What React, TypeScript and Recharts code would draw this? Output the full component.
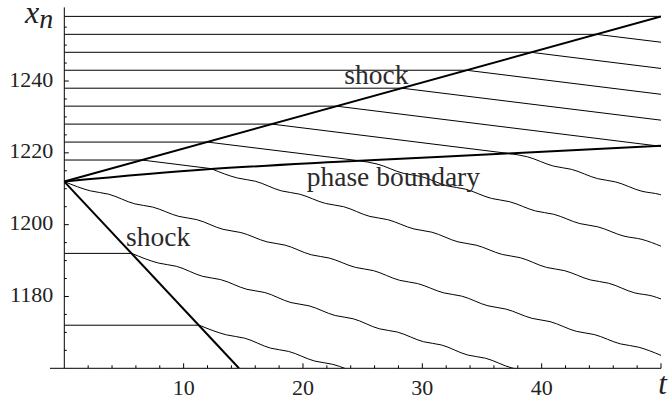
import { LineChart, Line, XAxis, YAxis, ReferenceLine, ReferenceDot } from 'recharts';

type Pt = [number, number];

// tick values
const timeTicks = [2, 4, 6, 8, 10, 12, 14, 16, 18, 20, 22, 24, 26, 28, 30, 32, 34, 36, 38, 40, 42, 44, 46, 48, 50];
const posTicks = [1165, 1170, 1175, 1180, 1185, 1190, 1195, 1200, 1205, 1210, 1215, 1220, 1225, 1230, 1235, 1240, 1245, 1250, 1255];
const posLabelled = [1180, 1200, 1220, 1240];

// particles at rest, then drifting after the shock (straight parts)
const p9Path: Pt[] = [[0, 1258], [50, 1258]];
const p8Path: Pt[] = [[0, 1253], [44.6, 1253], [50, 1250.8]];
const p7Path: Pt[] = [[0, 1248], [39.1, 1248], [50, 1243.5]];
const p6Path: Pt[] = [[0, 1243], [33.7, 1243], [50, 1236.3]];
const p5Path: Pt[] = [[0, 1238], [28.3, 1238], [50, 1229.1]];
const p4Path: Pt[] = [[0, 1233], [22.8, 1233], [50, 1221.8]];
const p3Path: Pt[] = [[0, 1228], [17.4, 1228], [37.3, 1219.8]];
const p2Path: Pt[] = [[0, 1223], [12.0, 1223], [24.7, 1217.8]];
const p1Path: Pt[] = [[0, 1218], [6.5, 1218], [12.3, 1215.6]];
const pm1Path: Pt[] = [[0, 1192], [5.65, 1192]];
const pm2Path: Pt[] = [[0, 1172], [11.3, 1172]];

// wavy parts below the phase boundary
const p0Wave: Pt[] = [
  [0, 1212], [2.2, 1209.4], [3.7, 1208.5], [5.9, 1205.8], [7.4, 1204.9], [9.6, 1202.3], [11.1, 1201.4],
  [13.3, 1198.7], [14.8, 1197.8], [17.0, 1195.2], [18.5, 1194.3], [20.7, 1191.6], [22.2, 1190.7],
  [24.4, 1188.1], [25.9, 1187.2], [28.1, 1184.5], [29.6, 1183.6], [31.8, 1181.0], [33.3, 1180.1],
  [35.5, 1177.4], [37.0, 1176.5], [39.2, 1173.9], [40.7, 1173.0], [42.9, 1170.3], [44.4, 1169.4],
  [46.6, 1166.8], [48.1, 1165.9], [50, 1163.6],
];
const p1Wave: Pt[] = [
  [12.3, 1215.6], [14.5, 1213.0], [16.0, 1212.1], [18.2, 1209.4], [19.7, 1208.5], [21.9, 1205.9],
  [23.4, 1205.0], [25.6, 1202.3], [27.1, 1201.4], [29.3, 1198.8], [30.8, 1197.9], [33.0, 1195.2],
  [34.5, 1194.3], [36.7, 1191.7], [38.2, 1190.8], [40.4, 1188.1], [41.9, 1187.2], [44.1, 1184.6],
  [45.6, 1183.7], [47.8, 1181.0], [49.3, 1180.1], [50, 1179.3],
];
const p2Wave: Pt[] = [
  [24.7, 1217.8], [26.2, 1216.9], [28.4, 1214.3], [29.9, 1213.4], [32.1, 1210.8], [33.6, 1209.9],
  [35.8, 1207.3], [37.3, 1206.4], [39.5, 1203.8], [41.0, 1202.9], [43.2, 1200.3], [44.7, 1199.4],
  [46.9, 1196.8], [48.4, 1195.9], [50, 1194.0],
];
const p3Wave: Pt[] = [
  [37.3, 1219.8], [38.8, 1218.9], [41.0, 1216.3], [42.5, 1215.4], [44.7, 1212.8], [46.2, 1211.9],
  [48.4, 1209.3], [49.9, 1208.4], [50, 1208.3],
];
const pm1Wave: Pt[] = [
  [5.65, 1192], [7.9, 1189.3], [9.4, 1188.4], [11.6, 1185.6], [13.1, 1184.7], [15.3, 1182.0],
  [16.8, 1181.1], [19.0, 1178.3], [20.5, 1177.4], [22.7, 1174.7], [24.2, 1173.8], [26.4, 1171.0],
  [27.9, 1170.1], [30.1, 1167.4], [31.6, 1166.5], [33.8, 1163.7], [35.3, 1162.8], [37.5, 1160.1],
  [39.0, 1159.2],
];
const pm2Wave: Pt[] = [
  [11.3, 1172], [13.6, 1169.3], [15.1, 1168.4], [17.3, 1165.6], [18.8, 1164.7], [21.0, 1162.0],
  [22.5, 1161.1], [24.7, 1158.3],
];

// shocks and phase boundary
const upperShock: Pt[] = [[0, 1212], [50, 1258]];
const lowerShock: Pt[] = [[0, 1212], [14.64, 1160]];
const phaseBoundary: Pt[] = [[0, 1212], [12, 1215.4], [23, 1217.5], [37, 1219.8], [50, 1222]];

const straightPaths = [p9Path, p8Path, p7Path, p6Path, p5Path, p4Path, p3Path, p2Path, p1Path, pm1Path, pm2Path];
const wavyPaths = [p0Wave, p1Wave, p2Wave, p3Wave, pm1Wave, pm2Wave];

const notes = [
  { text: 'shock', t: 23.46, x: 1239.1 },
  { text: 'phase boundary', t: 20.31, x: 1210.8 },
  { text: 'shock', t: 5.17, x: 1194.1 },
];

const FONT = "'Liberation Serif', 'Times New Roman', serif";

const rows = (pts: Pt[]) => pts.map(([t, x]) => ({ t, x }));

function TimeTick({ x, y, payload }: any) {
  const v = payload.value;
  const major = v % 10 === 0;
  return (
    <g>
      <line x1={x} y1={y} x2={x} y2={y - (major ? 5 : 3)} stroke="#000" strokeWidth={1} />
      {major && v < 50 && (
        <text x={x} y={y + 26.5} textAnchor="middle" style={{ fontFamily: FONT, fontSize: 22 }} fill="#222">
          {v}
        </text>
      )}
      {v === 50 && (
        <text x={x + 1.5} y={y + 26} textAnchor="middle" style={{ fontFamily: FONT, fontSize: 31, fontStyle: 'italic' }} fill="#222">
          t
        </text>
      )}
    </g>
  );
}

function PosTick({ x, y, payload }: any) {
  const v = payload.value;
  const major = posLabelled.includes(v);
  return (
    <g>
      <line x1={x} y1={y} x2={x + (major ? 4.5 : 2.5)} y2={y} stroke="#000" strokeWidth={1} />
      {major && (
        <text x={x - 11} y={y + 5.5} textAnchor="end" style={{ fontFamily: FONT, fontSize: 22 }} fill="#222">
          {v}
        </text>
      )}
    </g>
  );
}

function PosTitle({ viewBox }: any) {
  return (
    <text x={viewBox.x + 25} y={viewBox.y + 16} style={{ fontFamily: FONT, fontStyle: 'italic' }} fill="#222">
      <tspan style={{ fontSize: 32 }}>x</tspan>
      <tspan style={{ fontSize: 28 }} dy={5}>n</tspan>
    </text>
  );
}

export default function App() {
  return (
    <div style={{ position: 'absolute', left: 0, top: 0, background: '#fff' }}>
      <LineChart width={669} height={400} margin={{ top: 7.4, right: 8, bottom: 0, left: 0 }}>
        <XAxis
          type="number"
          dataKey="t"
          domain={[0, 50]}
          ticks={timeTicks}
          interval={0}
          allowDataOverflow
          height={31.7}
          axisLine={false}
          tickLine={false}
          tickSize={0}
          tickMargin={0}
          tick={<TimeTick />}
        />
        <YAxis
          type="number"
          domain={[1160, 1260.5]}
          ticks={posTicks}
          interval={0}
          allowDataOverflow
          width={64.3}
          axisLine={{ stroke: '#000', strokeWidth: 1 }}
          tickLine={false}
          tickSize={0}
          tickMargin={0}
          tick={<PosTick />}
          label={<PosTitle />}
        />
        <ReferenceLine
          segment={[{ x: -1.2, y: 1160 }, { x: 50, y: 1160 }]}
          stroke="#000"
          strokeWidth={1}
          ifOverflow="visible"
        />
        {straightPaths.map((p, i) => (
          <Line key={'s' + i} data={rows(p)} dataKey="x" type="linear" stroke="#000" strokeWidth={1}
            dot={false} activeDot={false} isAnimationActive={false} />
        ))}
        {wavyPaths.map((p, i) => (
          <Line key={'w' + i} data={rows(p)} dataKey="x" type="monotone" stroke="#000" strokeWidth={1}
            dot={false} activeDot={false} isAnimationActive={false} />
        ))}
        {[upperShock, lowerShock].map((p, i) => (
          <Line key={'k' + i} data={rows(p)} dataKey="x" type="linear" stroke="#000" strokeWidth={2}
            dot={false} activeDot={false} isAnimationActive={false} />
        ))}
        <Line data={rows(phaseBoundary)} dataKey="x" type="monotone" stroke="#000" strokeWidth={2}
          dot={false} activeDot={false} isAnimationActive={false} />
        {notes.map((n, i) => (
          <ReferenceDot
            key={'n' + i}
            x={n.t}
            y={n.x}
            r={0}
            shape={(p: any) => (
              <text x={p.cx} y={p.cy} style={{ fontFamily: FONT, fontSize: 27.5 }} fill="#2a2a2a">
                {n.text}
              </text>
            )}
          />
        ))}
      </LineChart>
    </div>
  );
}
